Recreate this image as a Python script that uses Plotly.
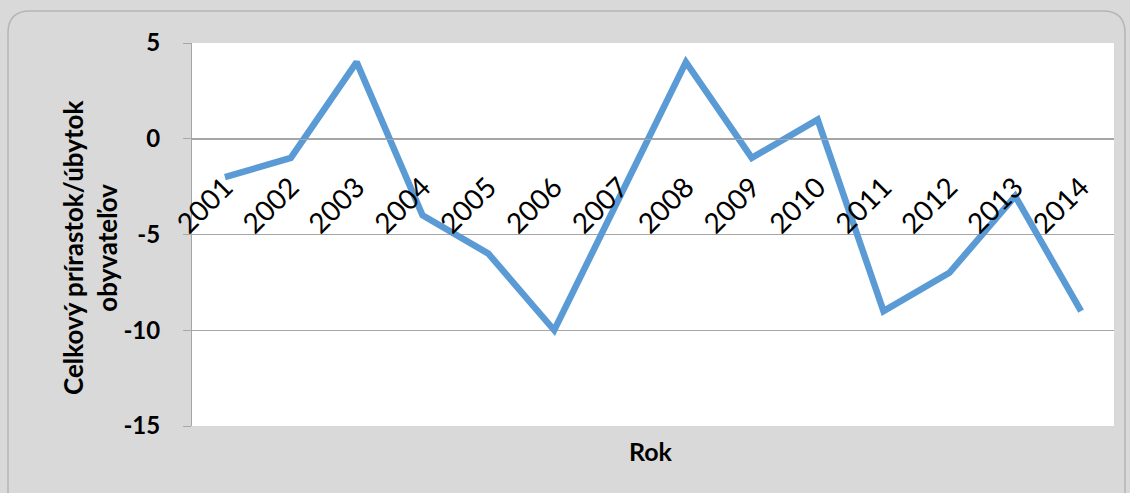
import plotly.graph_objects as go

years = ["2001", "2002", "2003", "2004", "2005", "2006", "2007",
         "2008", "2009", "2010", "2011", "2012", "2013", "2014"]
values = [-2, -1, 4, -4, -6, -10, -3, 4, -1, 1, -9, -7, -3, -9]
y_ticks = [5, 0, -5, -10, -15]
y_title = "Celkový prírastok/úbytok<br>obyvateľov"
x_title = "Rok"

W, H = 1130, 493
ML, MR, MT, MB = 192, 16, 43, 67
pw, ph = W - ML - MR, H - MT - MB
ymin, ymax = -15, 5

def px2paper(x, y):
    return (x - ML) / pw, (H - MB - y) / ph

fig = go.Figure()
fig.add_trace(go.Scatter(
    x=years, y=values, mode="lines",
    line=dict(color="#5B9BD5", width=6.5),
    hoverinfo="x+y", showlegend=False,
))

# rounded chart-area border
x0, y0 = 8, 11
x1, y1 = 1125, 520
r = 22
def P(x, y):
    a, b = px2paper(x, y)
    return f"{a:.5f},{b:.5f}"
path = (f"M {P(x0 + r, y0)} L {P(x1 - r, y0)} Q {P(x1, y0)} {P(x1, y0 + r)} "
        f"L {P(x1, y1 - r)} Q {P(x1, y1)} {P(x1 - r, y1)} "
        f"L {P(x0 + r, y1)} Q {P(x0, y1)} {P(x0, y1 - r)} "
        f"L {P(x0, y0 + r)} Q {P(x0, y0)} {P(x0 + r, y0)} Z")
fig.add_shape(type="path", path=path, xref="paper", yref="paper",
              line=dict(color="#B5B5B5", width=1.5), layer="above")

fig.update_layout(
    width=W, height=H,
    margin=dict(l=ML, r=MR, t=MT, b=MB),
    paper_bgcolor="#D9D9D9",
    plot_bgcolor="#FFFFFF",
    font=dict(family="Lato, Open Sans, sans-serif", color="#000000"),
    xaxis=dict(
        type="category",
        range=[-0.5, len(years) - 0.5],
        anchor="free",
        position=(0 - ymin) / (ymax - ymin),
        showline=True, linecolor="#A6A6A6", linewidth=1,
        showgrid=False, ticks="",
        tickangle=-45,
        tickfont=dict(size=28, family="Lato, sans-serif", color="#000000"),
        ticklabelstandoff=20,
        zeroline=False,
    ),
    yaxis=dict(
        range=[ymin, ymax],
        tickvals=y_ticks,
        ticktext=[str(v) for v in y_ticks],
        showgrid=True, gridcolor="#A6A6A6", gridwidth=1,
        zeroline=False,
        showline=True, linecolor="#A6A6A6", linewidth=1,
        ticks="outside", ticklen=8, tickcolor="#A6A6A6",
        tickfont=dict(size=24, family="Lato, sans-serif", color="#000000", weight="bold"),
        ticklabelstandoff=18,
    ),
    annotations=[
        dict(text=f"<b>{x_title}</b>", xref="paper", yref="paper",
             x=px2paper(651, 0)[0], y=px2paper(0, 451)[1], xanchor="center", yanchor="middle",
             showarrow=False, font=dict(size=25, color="#000000")),
        dict(text=f"<b>{y_title}</b>", xref="paper", yref="paper",
             x=px2paper(90, 0)[0], y=px2paper(0, 248)[1], xanchor="center", yanchor="middle",
             textangle=-90, showarrow=False, font=dict(size=26, color="#000000")),
    ],
)

fig.write_html(
    "out.html",
    config={"displayModeBar": False},
    post_script="document.body.style.margin='0';document.body.style.background='#D4D4D4';",
)
